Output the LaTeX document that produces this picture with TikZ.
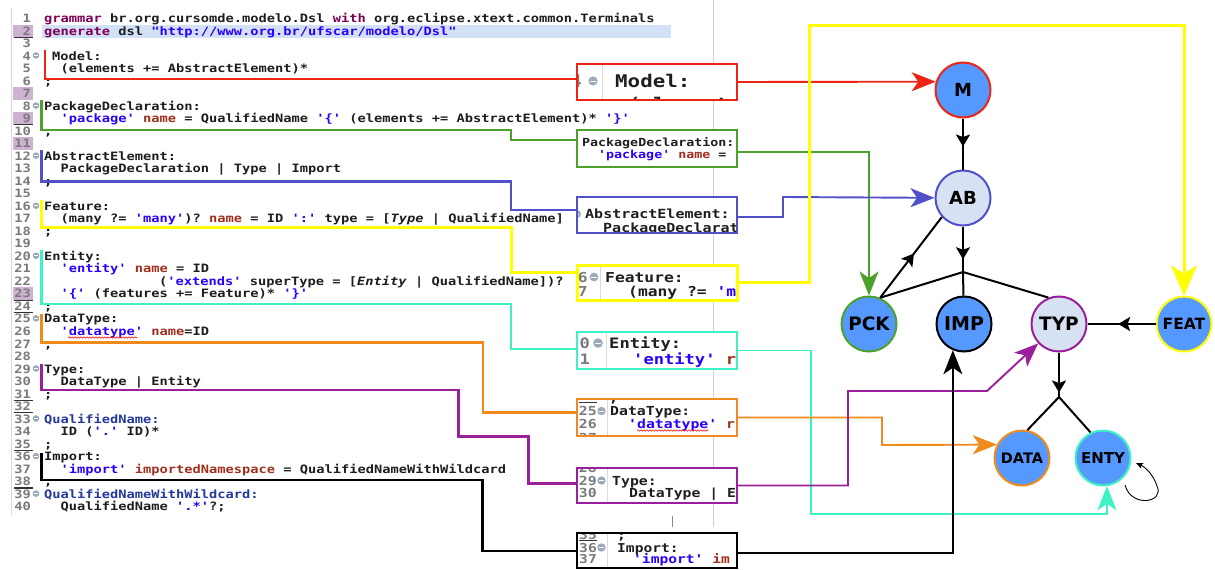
\documentclass[tikz,border=0pt]{standalone}
\usepackage{fontspec}
\usepackage{graphicx}
\setmonofont{DejaVu Sans Mono}
\setsansfont{DejaVu Sans}
\usetikzlibrary{arrows.meta,decorations.markings,decorations.pathmorphing,calc}

\definecolor{kwc}{HTML}{7F0055}
\definecolor{strc}{HTML}{2A00FF}
\definecolor{namec}{HTML}{A0301E}
\definecolor{dtc}{HTML}{23399A}
\definecolor{txtc}{HTML}{1E1E1E}
\definecolor{numc}{HTML}{7A7A7A}
\definecolor{foldc}{HTML}{9AAABB}
\definecolor{curline}{HTML}{D3E1F7}
\definecolor{markc}{HTML}{CDB2D1}
\definecolor{cRed}{HTML}{EE2414}
\definecolor{cGreen}{HTML}{4DA12B}
\definecolor{cBlue}{HTML}{5050CA}
\definecolor{cYellow}{HTML}{FFFF00}
\definecolor{cTeal}{HTML}{3DF3C4}
\definecolor{cOrange}{HTML}{F08A1C}
\definecolor{cPurple}{HTML}{9A1F9A}
\definecolor{nodeblue}{HTML}{5599FF}
\definecolor{nodepale}{HTML}{D7E1F4}

% syntax colouring of the grammar
\newcommand\kw[1]{\textcolor{kwc}{#1}}
\newcommand\qs[1]{\textcolor{strc}{#1}}
\newcommand\nm[1]{\textcolor{namec}{#1}}
\newcommand\dtr[1]{\textcolor{dtc}{#1}}
% editor text is slightly compressed vertically
\newcommand\vsq[1]{\scalebox{1}[0.84]{#1}}
\newcommand\codesz{\ttfamily\bfseries\fontsize{13.7}{14}\selectfont}
\newcommand\snf[1]{\ttfamily\bfseries\fontsize{#1}{#1}\selectfont}
\newcommand\nf[1]{\sffamily\bfseries\fontsize{#1}{#1}\selectfont}
% baseline of editor line n
\newcommand\bl[1]{22.5+(#1-1)*12.52}
\newcommand\codeln[3]{\node[codetxt] at (#1,{\bl{#2}}) {\vsq{#3}};}
\newcommand\foldat[3]{\fill[foldc] ({#1},{#2}) circle ({#3});
  \draw[white,line width=0.9pt] ({#1-#3*0.6},{#2}) -- ({#1+#3*0.6},{#2});}

\begin{document}
\begin{tikzpicture}[x=1pt,y=-1pt,
  codetxt/.style={anchor=base west, inner sep=0, text=txtc, font=\codesz},
  numtxt/.style={anchor=base east, inner sep=0, text=numc, font=\codesz},
  snt/.style={anchor=base west, inner sep=0, text=txtc},
  snn/.style={anchor=base east, inner sep=0, text=numc},
  snipbox/.style={rectangle, minimum width=160pt, minimum height=#1, inner sep=0, outer sep=0, fill=white},
  boxln/.style={line width=2.5pt},
  gutln/.style={draw=black!14, line width=0.8pt},
  codeln/.style={line width=2.6pt},
  linkln/.style={line width=1.9pt},
  bigtip/.style={-{Stealth[length=24pt,width=19pt,inset=6.5pt]}},
  vtx/.style={circle, minimum size=55pt, inner sep=0, line width=2pt, fill=nodeblue},
  tree/.style={line width=2pt, black},
  midarr/.style={postaction={decorate}, decoration={markings,
      mark=at position #1 with {\arrow{Stealth[length=12pt,width=14pt,inset=2.5pt]}}}}
]
\useasboundingbox (0,0) rectangle (1215,570);
\fill[white] (0,0) rectangle (1215,570);

% ---------- editor frame ----------
\draw[black!15, line width=0.8pt] (11,8) -- (11,515);
\draw[black!18, line width=0.8pt] (713,0) -- (713,527);
\draw[black!45, line width=1pt] (672,516) -- (672,527);

% current line highlight
\fill[curline] (42,{\bl{2}-10.5}) rectangle (671,{\bl{2}+2.5});
% changed-line marks in the ruler
\foreach \n in {2,7,9,11,23}
  \fill[markc] (13,{\bl{\n}-10.5}) rectangle (33,{\bl{\n}+2});
\foreach \n in {2,9,23,24,31,32,35,38}
  \draw[line width=1.2pt, black!80] (14,{\bl{\n}+2.2}) -- (33,{\bl{\n}+2.2});
% line numbers and folding markers
\foreach \n in {1,...,40}
  \node[numtxt] at (31,{\bl{\n}}) {\vsq{\n}};
\foreach \n in {4,8,12,16,20,25,29,33,36,39}
  {\foldat{36}{\bl{\n}-4.6}{3.3}}

% ---------- grammar text ----------
\codeln{44}{1}{\kw{grammar} br.org.cursomde.modelo.Dsl \kw{with} org.eclipse.xtext.common.Terminals}
\codeln{44}{2}{\kw{generate} dsl \qs{"http://www.org.br/ufscar/modelo/Dsl"}}
\codeln{52}{4}{Model:}
\codeln{60.5}{5}{(elements += AbstractElement)*}
\codeln{44}{6}{;}
\codeln{44}{8}{PackageDeclaration:}
\codeln{60.5}{9}{\qs{'package'} \nm{name} = QualifiedName \qs{'\{'} (elements += AbstractElement)* \qs{'\}'}}
\codeln{44}{10}{;}
\codeln{44}{12}{AbstractElement:}
\codeln{60.5}{13}{PackageDeclaration | Type | Import}
\codeln{44}{14}{;}
\codeln{44}{16}{Feature:}
\codeln{60.5}{17}{(many ?= \qs{'many'})? \nm{name} = ID \qs{':'} type = [\textit{Type} | QualifiedName]}
\codeln{44}{18}{;}
\codeln{44}{20}{Entity:}
\codeln{60.5}{21}{\qs{'entity'} \nm{name} = ID}
\codeln{159}{22}{(\qs{'extends'} superType = [\textit{Entity} | QualifiedName])?}
\codeln{60.5}{23}{\qs{'\{'} (features += Feature)* \qs{'\}'}}
\codeln{44}{24}{;}
\codeln{44}{25}{DataType:}
\codeln{60.5}{26}{\qs{'datatype'} \nm{name}=ID}
\codeln{44}{27}{;}
\codeln{44}{29}{Type:}
\codeln{60.5}{30}{DataType | Entity}
\codeln{44}{31}{;}
\codeln{44}{33}{\dtr{QualifiedName:}}
\codeln{60.5}{34}{ID (\qs{'.'} ID)*}
\codeln{44}{35}{;}
\codeln{44}{36}{Import:}
\codeln{60.5}{37}{\qs{'import'} \nm{importedNamespace} = QualifiedNameWithWildcard}
\codeln{44}{38}{;}
\codeln{44}{39}{\dtr{QualifiedNameWithWildcard:}}
\codeln{60.5}{40}{QualifiedName \qs{'.*'}?;}
% spell-check underline
\draw[red, line width=0.6pt, decorate, decoration={snake, amplitude=0.7pt, segment length=3pt}]
  (68,{\bl{26}+2}) -- (137,{\bl{26}+2});

% ---------- magnified excerpts ----------
\node[snipbox=36pt] (redbox) at (657,82) {};
\node[snipbox=37pt] (greenbox) at (657,148.5) {};
\node[snipbox=36pt] (bluebox) at (657,215) {};
\node[snipbox=35pt] (yellowbox) at (657,282.5) {};
\node[snipbox=37pt] (tealbox) at (657,350.5) {};
\node[snipbox=37pt] (orangebox) at (657,417.5) {};
\node[snipbox=35pt] (purplebox) at (657,485.5) {};
\node[snipbox=35pt] (blackbox) at (657,550.5) {};

\begin{scope}
  \clip (redbox.south west) rectangle (redbox.north east);
  \node[snn, font=\snf{20.8}] at (582,87.4) {\vsq{4}};
  \foldat{593}{81}{4.6}
  \draw[gutln] (602,64) -- (602,100);
  \node[snt, font=\snf{20.8}] at (615,87.4) {\vsq{Model:}};
  \node[snt, font=\snf{20.8}] at (628,110) {\vsq{(elements}};
\end{scope}
\begin{scope}
  \clip (greenbox.south west) rectangle (greenbox.north east);
  \node[snt, font=\snf{13.3}] at (582,146.6) {\vsq{PackageDeclaration:}};
  \node[snt, font=\snf{13.3}] at (598,158.6) {\vsq{\qs{'package'} \nm{name} =}};
\end{scope}
\begin{scope}
  \clip (bluebox.south west) rectangle (bluebox.north east);
  \foldat{577}{214}{4}
  \node[snt, font=\snf{15}] at (585,218.6) {\vsq{AbstractElement:}};
  \node[snt, font=\snf{15}] at (603,232.6) {\vsq{PackageDeclarat}};
\end{scope}
\begin{scope}
  \clip (yellowbox.south west) rectangle (yellowbox.north east);
  \node[snn, font=\snf{16.3}] at (588,282) {\vsq{6}};
  \node[snn, font=\snf{16.3}] at (588,296) {\vsq{7}};
  \foldat{594}{277}{4.4}
  \draw[gutln] (600,265) -- (600,300);
  \node[snt, font=\snf{16.3}] at (605,282) {\vsq{Feature:}};
  \node[snt, font=\snf{16.3}] at (628,296) {\vsq{(many ?= \qs{'m}}};
\end{scope}
\begin{scope}
  \clip (tealbox.south west) rectangle (tealbox.north east);
  \node[snn, font=\snf{17.1}] at (590,348.8) {\vsq{0}};
  \node[snn, font=\snf{17.1}] at (590,364.3) {\vsq{1}};
  \foldat{598}{343}{4.8}
  \draw[gutln] (606,332) -- (606,369);
  \node[snt, font=\snf{17.1}] at (609,348.8) {\vsq{Entity:}};
  \node[snt, font=\snf{17.1}] at (633,364.3) {\vsq{\qs{'entity'} \nm{r}}};
\end{scope}
\begin{scope}
  \clip (orangebox.south west) rectangle (orangebox.north east);
  \draw[line width=1.2pt, black!80] (579,402.5) -- (597,402.5);
  \node[snn, font=\snf{14.8}] at (597,415.6) {\vsq{25}};
  \node[snn, font=\snf{14.8}] at (597,428) {\vsq{26}};
  \node[snn, font=\snf{14.8}] at (597,442) {\vsq{27}};
  \foldat{601.5}{411}{4.2}
  \draw[gutln] (607,399) -- (607,436);
  \node[snt, font=\snf{14.8}] at (609,402.6) {\vsq{;}};
  \node[snt, font=\snf{14.8}] at (610,415.6) {\vsq{DataType:}};
  \node[snt, font=\snf{14.8}] at (628,428) {\vsq{\qs{'datatype'} \nm{r}}};
  \draw[red, line width=0.6pt, decorate, decoration={snake, amplitude=0.7pt, segment length=3pt}]
    (637,430.5) -- (708,430.5);
\end{scope}
\begin{scope}
  \clip (purplebox.south west) rectangle (purplebox.north east);
  \node[snn, font=\snf{14.8}] at (597,472.5) {\vsq{28}};
  \node[snn, font=\snf{14.8}] at (597,485) {\vsq{29}};
  \node[snn, font=\snf{14.8}] at (597,497.5) {\vsq{30}};
  \foldat{601.5}{480.5}{4.2}
  \draw[gutln] (607,468) -- (607,503);
  \node[snt, font=\snf{14.8}] at (612,485) {\vsq{Type:}};
  \node[snt, font=\snf{14.8}] at (629,497.5) {\vsq{DataType | E}};
\end{scope}
\begin{scope}
  \clip (blackbox.south west) rectangle (blackbox.north east);
  \node[snn, font=\snf{14.6}] at (597,539.4) {\vsq{35}};
  \draw[line width=1.2pt, black!80] (579,540.5) -- (597,540.5);
  \node[snn, font=\snf{14.6}] at (597,552) {\vsq{36}};
  \node[snn, font=\snf{14.6}] at (597,563.5) {\vsq{37}};
  \foldat{601.5}{547.5}{4.2}
  \draw[gutln] (607,533) -- (607,568);
  \node[snt, font=\snf{14.6}] at (617,539.4) {\vsq{;}};
  \node[snt, font=\snf{14.6}] at (617,552) {\vsq{Import:}};
  \node[snt, font=\snf{14.6}] at (633,563.5) {\vsq{\qs{'import'} \nm{im}}};
\end{scope}

% ---------- grammar rules to excerpts ----------
\coordinate (rTop) at (45,50);    \coordinate (rTurn) at (45,79);
\coordinate (gTop) at (41.5,100); \coordinate (gBend) at (511,130);   \coordinate (gIn) at (0,140);
\coordinate (bTop) at (41.5,150); \coordinate (bBend) at (511,181.5); \coordinate (bIn) at (0,210);
\coordinate (yTop) at (41.5,200); \coordinate (yBend) at (511,227.5); \coordinate (yIn) at (0,272.3);
\coordinate (tTop) at (41.5,250); \coordinate (tBend) at (511,304);   \coordinate (tIn) at (0,349);
\coordinate (oTop) at (41.5,314); \coordinate (oBend) at (483,342.7); \coordinate (oIn) at (0,412.7);
\coordinate (pTop) at (41.5,364); \coordinate (pBend) at (458.3,390); \coordinate (pBend2) at (528.3,436.7);
\coordinate (pIn) at (0,483.5);
\coordinate (kTop) at (41.5,453); \coordinate (kBend) at (482.7,480); \coordinate (kIn) at (0,551);

\draw[codeln, cRed] (rTop) |- (redbox.west |- rTurn);
\draw[codeln, cGreen] (gTop) |- (gBend) |- (greenbox.west |- gIn);
\draw[codeln, cBlue] (bTop) |- (bBend) |- (bluebox.west |- bIn);
\draw[codeln, cYellow, line width=3pt] (yTop) |- (yBend) |- (yellowbox.west |- yIn);
\draw[codeln, cTeal] (tTop) |- (tBend) |- (tealbox.west |- tIn);
\draw[codeln, cOrange] (oTop) |- (oBend) |- (orangebox.west |- oIn);
\draw[codeln, cPurple] (pTop) |- (pBend) |- (pBend2) |- (purplebox.west |- pIn);
\draw[codeln, black] (kTop) |- (kBend) |- (blackbox.west |- kIn);

% excerpt frames
\draw[boxln, cRed] (redbox.south west) rectangle (redbox.north east);
\draw[boxln, cGreen] (greenbox.south west) rectangle (greenbox.north east);
\draw[boxln, cBlue] (bluebox.south west) rectangle (bluebox.north east);
\draw[boxln, cYellow, line width=3pt] (yellowbox.south west) rectangle (yellowbox.north east);
\draw[boxln, cTeal] (tealbox.south west) rectangle (tealbox.north east);
\draw[boxln, cOrange] (orangebox.south west) rectangle (orangebox.north east);
\draw[boxln, cPurple] (purplebox.south west) rectangle (purplebox.north east);
\draw[boxln, black] (blackbox.south west) rectangle (blackbox.north east);

% ---------- metamodel graph ----------
\node[vtx, draw=cRed, font=\nf{18}] (M) at (963,90) {M};
\node[vtx, draw=cBlue, fill=nodepale, font=\nf{18}] (AB) at (963,198) {AB};
\node[vtx, draw=cGreen, font=\nf{18.5}] (PCK) at (869,324) {PCK};
\node[vtx, draw=black, font=\nf{19}] (IMP) at (964,324) {IMP};
\node[vtx, draw=cPurple, fill=nodepale, font=\nf{18.5}] (TYP) at (1059,324) {TYP};
\node[vtx, draw=cYellow, font=\nf{15.5}] (FEAT) at (1184,324) {FEAT};
\node[vtx, draw=cOrange, font=\nf{14.5}] (DATA) at (1022,458) {DATA};
\node[vtx, draw=cTeal, font=\nf{15}] (ENTY) at (1103,458) {ENTY};

\coordinate (jTop) at (963,272);
\coordinate (jLow) at (1059,397);
\draw[tree, midarr=0.55] (M) -- (AB);
\draw[tree, midarr=0.72] (AB) -- (jTop);
\draw[tree] (jTop) -- (PCK.67);
\draw[tree] (jTop) -- (IMP);
\draw[tree] (jTop) -- (TYP.112);
\draw[tree, midarr=0.55] (PCK.67) -- (AB.-138);
\draw[tree, midarr=0.55] (FEAT) -- (TYP);
\draw[tree, midarr=0.9] (TYP) -- (jLow);
\draw[tree] (jLow) -- (DATA.79);
\draw[tree] (jLow) -- (ENTY.116);
\draw[line width=0.9pt, -{Stealth[length=7pt,width=6pt,inset=1.5pt]}]
  ($(ENTY)+(22,27)$) .. controls ($(ENTY)+(28,50)$) and ($(ENTY)+(62,45)$) .. ($(ENTY)+(54,28)$)
  .. controls ($(ENTY)+(50,16)$) and ($(ENTY)+(42,9)$) .. ($(ENTY)+(33,5)$);

% ---------- excerpts to metamodel elements ----------
\coordinate (bStep) at (783,197);
\coordinate (yUp) at (809,25);
\coordinate (tLow) at (811,514);
\coordinate (oStep) at (882,445);
\coordinate (pUp) at (848,391);
\coordinate (pKnee) at (987,391);

\draw[linkln, cRed, bigtip] (redbox.east) -- (M.163);
\draw[linkln, cGreen, bigtip] ([yshift=-3.5pt]greenbox.east) -| (PCK.north);
\draw[linkln, cBlue, bigtip] ([yshift=-2pt]bluebox.east) -| (bStep) -- (AB);
\draw[linkln, cYellow, line width=3pt, -{Stealth[length=30pt,width=26pt,inset=8pt]}]
  (yellowbox.east) -| (yUp) -| (FEAT.north);
\draw[linkln, cTeal, bigtip] (tealbox.east) -| (tLow) -| (ENTY.-82);
\draw[linkln, cOrange, bigtip] (orangebox.east) -| (oStep) -- (DATA.152);
\draw[linkln, cPurple, bigtip] (purplebox.east) -| (pUp) -- (pKnee) -- (TYP);
\draw[linkln, black, bigtip] ([yshift=-2.5pt]blackbox.east) -| (IMP.-113);
\end{tikzpicture}
\end{document}
